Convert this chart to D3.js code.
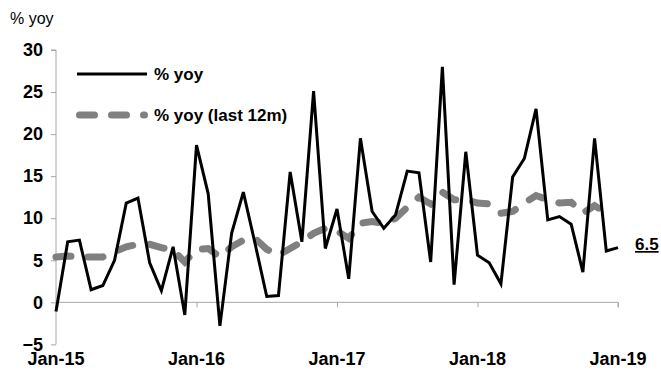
<!DOCTYPE html>
<html><head><meta charset="utf-8">
<script src="https://cdn.jsdelivr.net/npm/d3@7"></script>
<style>
body{margin:0;background:#fff;}
svg{display:block;font-family:"Liberation Sans",Arial,sans-serif;}
</style></head>
<body><div id="chart"></div>
<script>
const yoy = [-1.1, 7.2, 7.4, 1.5, 2.0, 5.0, 11.8, 12.4, 4.7, 1.4, 6.6, -1.5,
  18.7, 12.9, -2.8, 8.2, 13.1, 7.0, 0.7, 0.8, 15.5, 7.2, 25.1, 6.4,
  11.1, 2.8, 19.5, 10.8, 8.8, 10.4, 15.6, 15.4, 4.8, 28.0, 2.1, 17.9,
  5.6, 4.7, 2.2, 14.9, 17.1, 23.0, 9.8, 10.2, 9.3, 3.6, 19.5, 6.1, 6.5];
const yoy12m = [5.4, 5.5, 5.4, 5.4, 5.4, 6.0, 6.6, 6.9, 6.9, 6.5, 6.2, 4.8,
  6.3, 6.4, 5.4, 6.6, 7.4, 7.6, 6.3, 5.6, 6.4, 7.2, 8.2, 8.8,
  8.5, 7.6, 9.4, 9.6, 9.4, 10.0, 11.3, 12.5, 11.7, 13.1, 12.2, 12.2,
  11.8, 11.7, 10.6, 10.8, 11.8, 12.7, 12.2, 11.8, 11.9, 10.6, 11.5, 10.6];
const xTickIdx = [0, 12, 24, 36, 48];
const xTickLabels = ["Jan-15", "Jan-16", "Jan-17", "Jan-18", "Jan-19"];
const yTicks = [-5, 0, 5, 10, 15, 20, 25, 30];
const seriesNames = ["% yoy", "% yoy (last 12m)"];
const lastLabel = "6.5";

const W = 661, H = 379;
const svg = d3.select("#chart").append("svg").attr("width", W).attr("height", H);
const x = d3.scaleLinear().domain([0, 48]).range([56, 618]);
const y = d3.scaleLinear().domain([-5, 30]).range([344.4, 50]);
const axisCol = "#a6a6a6";

// unit label
svg.append("text").attr("x", 10).attr("y", 24).attr("font-size", 16).attr("fill", "#000").text("% yoy");

// y axis
const ya = svg.append("g").attr("transform", "translate(56,0)")
  .call(d3.axisLeft(y).tickValues(yTicks).tickSize(5).tickPadding(8).tickFormat(d3.format("d")));
ya.select(".domain").attr("stroke", axisCol).attr("d", `M-5,${y(30)}H0V${y(-5)}`);
ya.selectAll(".tick line").attr("stroke", axisCol);
ya.selectAll(".tick text").attr("font-size", 18).attr("font-weight", "bold").attr("fill", "#000")
  .attr("font-family", "Liberation Sans, Arial, sans-serif").attr("dy", "0.32em");

// x axis at zero
const xa = svg.append("g").attr("transform", `translate(0,${y(0)})`)
  .call(d3.axisBottom(x).tickValues(xTickIdx).tickSize(5).tickFormat(""));
xa.select(".domain").attr("stroke", axisCol).attr("d", `M${x(0)},0H${x(48)}V5`);
xa.selectAll(".tick line").attr("stroke", axisCol);

svg.append("g").selectAll("text").data(xTickIdx).join("text")
  .attr("x", d => x(d)).attr("y", 365).attr("text-anchor", "middle")
  .attr("font-size", 18).attr("font-weight", "bold").text((d, i) => xTickLabels[i]);

// lines
const line = d3.line().x((d, i) => x(i)).y(d => y(d));
svg.append("path").datum(yoy12m).attr("d", line).attr("fill", "none")
  .attr("stroke", "#808080").attr("stroke-width", 7).attr("stroke-linecap", "round")
  .attr("stroke-dasharray", "15 17");
svg.append("path").datum(yoy).attr("d", line).attr("fill", "none")
  .attr("stroke", "#000").attr("stroke-width", 3).attr("stroke-linejoin", "miter");

// last value label
svg.append("text").attr("x", 635).attr("y", 250).attr("font-size", 17).attr("font-weight", "bold")
  .attr("text-decoration", "underline").text(lastLabel);

// legend
const lg = svg.append("g");
lg.append("line").attr("x1", 77).attr("x2", 147).attr("y1", 74).attr("y2", 74)
  .attr("stroke", "#000").attr("stroke-width", 3);
lg.append("text").attr("x", 154).attr("y", 80).attr("font-size", 17).attr("font-weight", "bold").text(seriesNames[0]);
lg.append("line").attr("x1", 79.5).attr("x2", 144.5).attr("y1", 115).attr("y2", 115)
  .attr("stroke", "#808080").attr("stroke-width", 7).attr("stroke-linecap", "round")
  .attr("stroke-dasharray", "15 17");
lg.append("text").attr("x", 154).attr("y", 121).attr("font-size", 17).attr("font-weight", "bold").text(seriesNames[1]);
</script></body></html>
